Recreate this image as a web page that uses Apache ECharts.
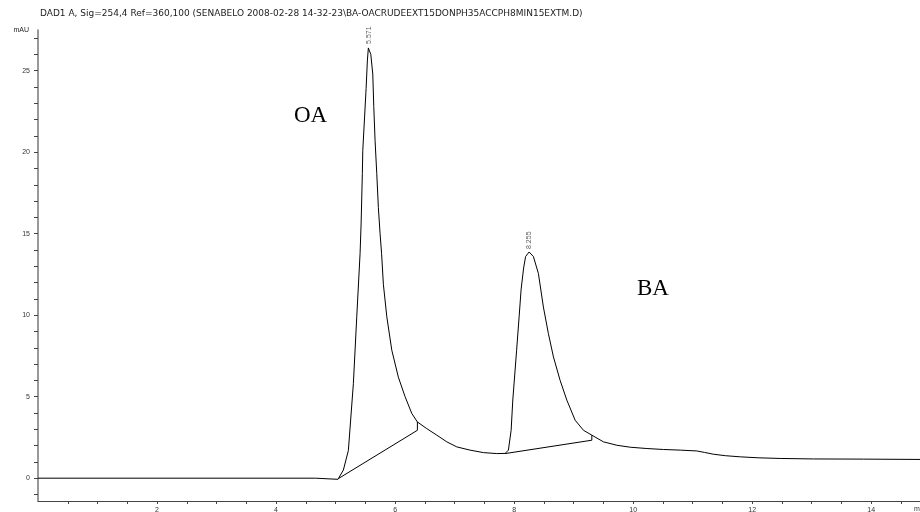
<!DOCTYPE html>
<html>
<head>
<meta charset="utf-8">
<script src="https://cdn.jsdelivr.net/npm/echarts@6/dist/echarts.min.js"></script>
<style>
  html, body { margin: 0; padding: 0; background: #fff; }
  #chart { width: 920px; height: 512px; }
</style>
</head>
<body>
<div id="chart"></div>
<script>
// Retention time (min) and absorbance (mAU)
var times = [0, 4.66, 4.68, 5.04, 5.05, 5.131, 5.215, 5.299, 5.356, 5.412, 5.429, 5.45, 5.457,
  5.513, 5.534, 5.551, 5.563, 5.592, 5.625, 5.642, 5.664, 5.692, 5.719, 5.748, 5.773, 5.803,
  5.861, 5.945, 6.055, 6.168, 6.281, 6.375, 6.533, 6.701, 6.869, 7.037, 7.261, 7.484, 7.709,
  7.849, 7.904, 7.95, 7.978, 8.042, 8.084, 8.118, 8.16, 8.193, 8.252, 8.324, 8.408, 8.492,
  8.576, 8.661, 8.773, 8.886, 9.025, 9.165, 9.306, 9.501, 9.726, 9.95, 10.23, 10.51, 10.8,
  11.07, 11.2, 11.35, 11.55, 11.8, 12.1, 12.47, 13.03, 13.87, 14.82];
var mau = [0, 0, -0.07, -0.07, 0, 0.5, 1.7, 5.8, 9.9, 13.8, 15.6, 18.7, 20.1,
  23.9, 25.6, 26.4, 26.46, 26.0, 24.8, 22.8, 20.7, 18.7, 16.6, 15.0, 13.8, 11.9,
  9.9, 7.85, 6.2, 5.0, 3.97, 3.45, 3.04, 2.64, 2.23, 1.92, 1.72, 1.57, 1.51,
  1.52, 1.72, 2.94, 4.8, 7.85, 9.9, 11.6, 12.9, 13.6, 13.88, 13.6, 12.56, 10.5,
  8.87, 7.44, 6.0, 4.79, 3.56, 2.94, 2.64, 2.23, 2.02, 1.9, 1.82, 1.76, 1.72,
  1.67, 1.58, 1.47, 1.38, 1.31, 1.25, 1.21, 1.18, 1.17, 1.15];

// integrated peaks
var peakTimes = [5.563, 8.252];
var peakHeights = [26.46, 13.88];
var peakLabels = ['5.571', '8.255'];

// integration baselines (start, end, drop line up to trace)
var oaBaseT = [5.05, 6.375, 6.375];
var oaBaseV = [-0.02, 2.94, 3.45];
var baBaseT = [7.849, 9.306, 9.306];
var baBaseV = [1.51, 2.33, 2.64];

// axis ticks and labels
var yLabelValues = [0, 5, 10, 15, 20, 25];
var xLabelValues = [2, 4, 6, 8, 10, 12, 14];
var yTickValues = [];
for (var i = -1; i <= 27; i++) yTickValues.push(i);
var xTickValues = [];
for (var j = 1; j <= 29; j++) xTickValues.push(j * 0.5);

var titleText = 'DAD1 A, Sig=254,4 Ref=360,100 (SENABELO 2008-02-28 14-32-23\\BA-OACRUDEEXT15DONPH35ACCPH8MIN15EXTM.D)';

function zip(a, b) {
  return a.map(function (v, k) { return [v, b[k]]; });
}

var chart = echarts.init(document.getElementById('chart'));

var option = {
  animation: false,
  backgroundColor: '#fff',
  textStyle: { fontFamily: 'Liberation Sans' },
  grid: { left: 38, right: 0, top: 30, bottom: 11, containLabel: false, outerBoundsMode: 'none' },
  xAxis: {
    type: 'value',
    min: 0,
    max: 14.82,
    axisLine: { onZero: false, lineStyle: { color: '#444', width: 1 } },
    axisTick: { customValues: xTickValues, length: 3, lineStyle: { color: '#444' } },
    axisLabel: { customValues: xLabelValues, fontSize: 7, color: '#333', margin: 6 },
    splitLine: { show: false }
  },
  yAxis: {
    type: 'value',
    min: -1.4,
    max: 27.5,
    axisLine: { show: true, lineStyle: { color: '#777', width: 1.5 } },
    axisTick: { show: true, customValues: yTickValues, length: 4, lineStyle: { color: '#444' } },
    axisLabel: { customValues: yLabelValues, fontSize: 7, color: '#333', margin: 8 },
    splitLine: { show: false }
  },
  graphic: [
    { type: 'text', left: 40, top: 9, style: { text: titleText, font: '9px "DejaVu Sans"', fill: '#222' } },
    { type: 'text', x: 29, y: 30, style: { text: 'mAU', font: '7px "Liberation Sans"', fill: '#222', align: 'right', verticalAlign: 'middle' } },
    { type: 'text', x: 914, y: 509, style: { text: 'min', font: '7px "Liberation Sans"', fill: '#333', align: 'left', verticalAlign: 'middle' } },
    { type: 'text', x: 294, y: 116, style: { text: 'OA', font: '23px "Liberation Serif"', fill: '#000', align: 'left', verticalAlign: 'middle' } },
    { type: 'text', x: 637, y: 289, style: { text: 'BA', font: '23px "Liberation Serif"', fill: '#000', align: 'left', verticalAlign: 'middle' } }
  ],
  series: [
    {
      name: 'DAD1 A',
      type: 'line',
      data: zip(times, mau),
      showSymbol: false,
      lineStyle: { color: '#000', width: 1 },
      z: 3
    },
    {
      name: 'OA baseline',
      type: 'line',
      data: zip(oaBaseT, oaBaseV),
      showSymbol: false,
      lineStyle: { color: '#000', width: 1 }
    },
    {
      name: 'BA baseline',
      type: 'line',
      data: zip(baBaseT, baBaseV),
      showSymbol: false,
      lineStyle: { color: '#000', width: 1 }
    },
    {
      name: 'peaks',
      type: 'scatter',
      symbolSize: 0,
      data: peakTimes.map(function (t, k) { return { value: [t, peakHeights[k]], name: peakLabels[k] }; }),
      label: {
        show: true,
        position: 'top',
        distance: 3,
        rotate: 90,
        align: 'left',
        verticalAlign: 'middle',
        formatter: function (p) { return p.name; },
        fontSize: 7,
        color: '#333'
      }
    }
  ]
};

chart.setOption(option);
</script>
</body>
</html>
